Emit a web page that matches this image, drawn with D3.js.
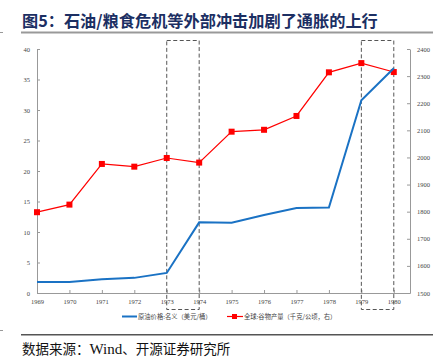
<!DOCTYPE html>
<html><head><meta charset="utf-8">
<script src="https://cdn.jsdelivr.net/npm/d3@7"></script>
<style>body{margin:0;background:#fff}svg{display:block}</style>
</head><body>
<svg id="c" width="445" height="357"></svg>
<script>
const years = [1969,1970,1971,1972,1973,1974,1975,1976,1977,1978,1979,1980];
const oilPrice = [1.8,1.8,2.24,2.48,3.29,11.58,11.53,12.8,13.92,14.02,31.61,36.83];
const grainYield = [1798,1826,1976,1966,1998,1981,2095,2102,2153,2314,2348,2315];
const leftTicks = [0,5,10,15,20,25,30,35,40];
const rightTicks = [1500,1600,1700,1800,1900,2000,2100,2200,2300,2400];
const highlight = [[1973,1974],[1979,1980]];
const title = "图5：石油/粮食危机等外部冲击加剧了通胀的上行";
const sourceParts = ["数据来源：", "Wind", "、开源证券研究所"];
const seriesNames = ["原油价格:名义（美元/桶）","全球:谷物产量（千克/公顷，右）"];

const svg = d3.select("#c");
const L = 37, R = 410, T = 49, B = 293;
const x = d3.scaleLinear().domain([1969, 1980.5]).range([L, R]);
const yL = d3.scaleLinear().domain([0, 40]).range([B, T]);
const yR = d3.scaleLinear().domain([1500, 2400]).range([B, T]);
const blue = "#1a72c4", red = "#ff0000";
const tickFont = "Liberation Serif, Times New Roman, serif";

// header
svg.append("text").attr("x", 22).attr("y", 27).text(title)
  .attr("font-family", "Noto Sans CJK SC").attr("font-weight", "bold")
  .attr("font-size", 16.2).attr("fill", "#1c2f63");
svg.append("rect").attr("x", 21).attr("y", 31.5).attr("width", 412).attr("height", 2).attr("fill", "#999");
svg.append("rect").attr("x", 0).attr("y", 32).attr("width", 3).attr("height", 1).attr("fill", "#999");
svg.append("rect").attr("x", 21).attr("y", 334).attr("width", 412).attr("height", 1.5).attr("fill", "#555");
svg.append("rect").attr("x", 0).attr("y", 330).attr("width", 3).attr("height", 1).attr("fill", "#999");
const src = svg.append("text").attr("x", 22).attr("y", 353.5)
  .attr("font-family", "Noto Sans CJK SC, serif").attr("font-size", 13.5).attr("fill", "#111");
src.append("tspan").text(sourceParts[0]);
src.append("tspan").text(sourceParts[1]).attr("font-family", "Liberation Serif, serif").attr("font-size", 15);
src.append("tspan").text(sourceParts[2]);

// axes
function styleAxis(g) {
  g.selectAll("path,line").attr("stroke", "#999").attr("stroke-width", 1);
  g.selectAll("text").attr("font-family", tickFont).attr("font-size", 6.5).attr("fill", "#444");
}
const gl = svg.append("g").attr("transform", `translate(${L},0)`)
  .call(d3.axisLeft(yL).tickValues(leftTicks).tickFormat(d3.format("d")).tickSizeInner(-3).tickSizeOuter(0).tickPadding(7));
styleAxis(gl);
const gr = svg.append("g").attr("transform", `translate(${R},0)`)
  .call(d3.axisRight(yR).tickValues(rightTicks).tickFormat(d3.format("d")).tickSizeInner(-3).tickSizeOuter(0).tickPadding(7));
styleAxis(gr);
const gx = svg.append("g").attr("transform", `translate(0,${B})`)
  .call(d3.axisBottom(x).tickValues(years).tickFormat(d3.format("d")).tickSizeInner(-3).tickSizeOuter(0).tickPadding(6));
styleAxis(gx);

// highlight boxes
highlight.forEach(([a, b]) => {
  svg.append("rect").attr("x", x(a)).attr("y", 40.5).attr("width", x(b) - x(a)).attr("height", 269)
    .attr("fill", "none").attr("stroke", "#555").attr("stroke-width", 1).attr("stroke-dasharray", "4,2.5");
});

// lines
svg.append("path").datum(years.map((d, i) => [d, grainYield[i]]))
  .attr("d", d3.line().x(d => x(d[0])).y(d => yR(d[1])))
  .attr("fill", "none").attr("stroke", red).attr("stroke-width", 1.2);
svg.selectAll(".m").data(years.map((d, i) => [d, grainYield[i]])).enter().append("rect")
  .attr("x", d => x(d[0]) - 3).attr("y", d => yR(d[1]) - 3).attr("width", 6).attr("height", 6).attr("fill", red);
svg.append("path").datum(years.map((d, i) => [d, oilPrice[i]]))
  .attr("d", d3.line().x(d => x(d[0])).y(d => yL(d[1])))
  .attr("fill", "none").attr("stroke", blue).attr("stroke-width", 2);

// legend
const ly = 316.5;
svg.append("line").attr("x1", 122).attr("x2", 137).attr("y1", ly).attr("y2", ly).attr("stroke", blue).attr("stroke-width", 2);
svg.append("text").attr("x", 138).attr("y", ly + 2.3).text(seriesNames[0])
  .attr("font-family", "Noto Sans CJK SC").attr("font-size", 6.3).attr("fill", "#444");
svg.append("line").attr("x1", 227).attr("x2", 243).attr("y1", ly).attr("y2", ly).attr("stroke", red).attr("stroke-width", 1.2);
svg.append("rect").attr("x", 232).attr("y", ly - 2.5).attr("width", 5).attr("height", 5).attr("fill", red);
svg.append("text").attr("x", 244).attr("y", ly + 2.3).text(seriesNames[1])
  .attr("font-family", "Noto Sans CJK SC").attr("font-size", 6.3).attr("fill", "#444");
</script>
</body></html>
